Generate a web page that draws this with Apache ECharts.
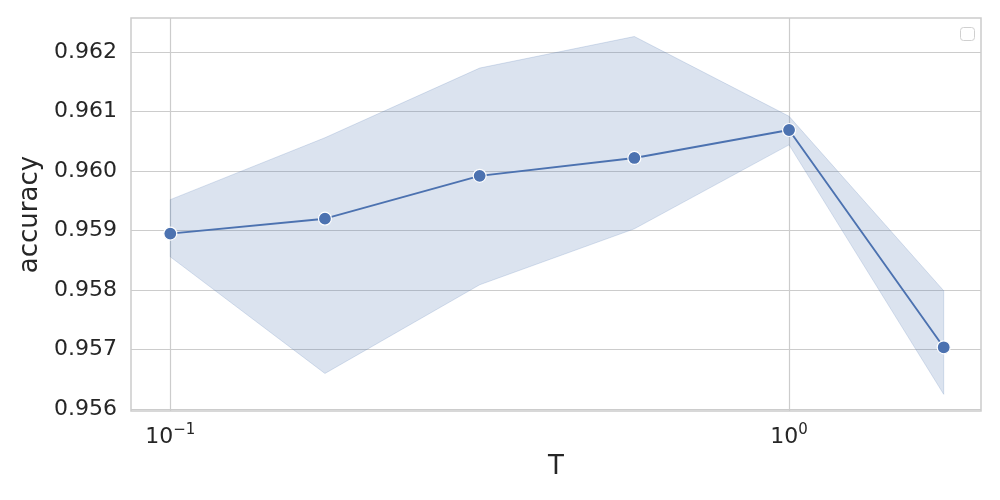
<!DOCTYPE html>
<html>
<head>
<meta charset="utf-8">
<script src="https://cdn.jsdelivr.net/npm/echarts@6/dist/echarts.min.js"></script>
<style>
  html, body { margin: 0; padding: 0; background: #fff; }
  #chart { width: 1000px; height: 500px; }
</style>
</head>
<body>
<div id="chart"></div>
<script>
// temperature values (log-spaced), mean accuracy and CI band
const tValues = [0.1, 0.1778, 0.3162, 0.5623, 1.0, 1.778]
const accuracy = [0.95895, 0.95920, 0.95992, 0.96022, 0.96069, 0.95704]
const bandUpper = [0.95952, 0.96056, 0.96173, 0.96226, 0.96092, 0.95799]
const bandLower = [0.95856, 0.95660, 0.95809, 0.95903, 0.96044, 0.95625]
const xMajorTicks = [0.1, 1.0]
const yTicks = [0.956, 0.957, 0.958, 0.959, 0.960, 0.961, 0.962]

const blue = '#4c72b0'
const gridColor = '#cccccc'
const textColor = '#262626'
const font = 'DejaVu Sans'

const lx = v => Math.log10(v)
const linePoints = tValues.map((t, i) => [lx(t), accuracy[i]])
const bandPoints = tValues.map((t, i) => [lx(t), bandLower[i], bandUpper[i]])

const chart = echarts.init(document.getElementById('chart'), null, { renderer: 'canvas' })

chart.setOption({
  animation: false,
  backgroundColor: '#ffffff',
  textStyle: { fontFamily: font },
  grid: {
    left: 131,
    right: 19,
    top: 18,
    bottom: 89,
    show: true,
    borderColor: gridColor,
    borderWidth: 1.5
  },
  xAxis: {
    type: 'value',
    min: -1.0635,
    max: 0.3102,
    name: 'T',
    nameLocation: 'middle',
    nameGap: 43,
    nameTextStyle: { fontSize: 26, color: textColor, fontFamily: font },
    axisLine: { show: false },
    axisTick: { show: false, customValues: xMajorTicks.map(lx) },
    splitLine: { show: true, lineStyle: { color: gridColor, width: 1.2 } },
    axisLabel: {
      customValues: xMajorTicks.map(lx),
      margin: 12,
      color: textColor,
      formatter: v => '{b|10}{s|' + (Math.round(v) < 0 ? '\u2212' + Math.abs(Math.round(v)) : Math.round(v)) + '}',
      rich: {
        b: { fontSize: 22, color: textColor, fontFamily: font },
        s: { fontSize: 15, color: textColor, fontFamily: font, padding: [0, 0, 13, 0] }
      }
    }
  },
  yAxis: {
    type: 'value',
    min: 0.95597,
    max: 0.962571,
    name: 'accuracy',
    nameLocation: 'middle',
    nameGap: 84,
    nameRotate: 90,
    nameTextStyle: { fontSize: 26, color: textColor, fontFamily: font },
    axisLine: { show: false },
    axisTick: { show: false, customValues: yTicks },
    splitLine: { show: true, lineStyle: { color: gridColor, width: 1.2 } },
    axisLabel: {
      customValues: yTicks,
      fontSize: 22,
      color: textColor,
      margin: 14,
      formatter: v => v.toFixed(3)
    }
  },
  graphic: [{
    type: 'rect',
    shape: { x: 960.5, y: 27.5, width: 14, height: 13, r: 3 },
    style: { fill: '#ffffff', stroke: '#d0d0d0', lineWidth: 1 },
    z: 100
  }],
  series: [
    {
      type: 'custom',
      z: 2,
      silent: true,
      data: bandPoints,
      renderItem: (params, api) => {
        if (params.dataIndex !== 0) return null
        const upper = bandPoints.map(p => api.coord([p[0], p[2]]))
        const lower = bandPoints.map(p => api.coord([p[0], p[1]])).reverse()
        return {
          type: 'polygon',
          shape: { points: upper.concat(lower) },
          style: {
            fill: 'rgba(76,114,176,0.2)',
            stroke: 'rgba(76,114,176,0.2)',
            lineWidth: 1
          }
        }
      },
      encode: { x: 0, y: [1, 2] }
    },
    {
      type: 'line',
      z: 3,
      data: linePoints,
      symbol: 'circle',
      symbolSize: 13,
      showSymbol: true,
      lineStyle: { color: blue, width: 1.9 },
      itemStyle: { color: blue, borderColor: '#ffffff', borderWidth: 1.2 }
    }
  ]
})
</script>
</body>
</html>
